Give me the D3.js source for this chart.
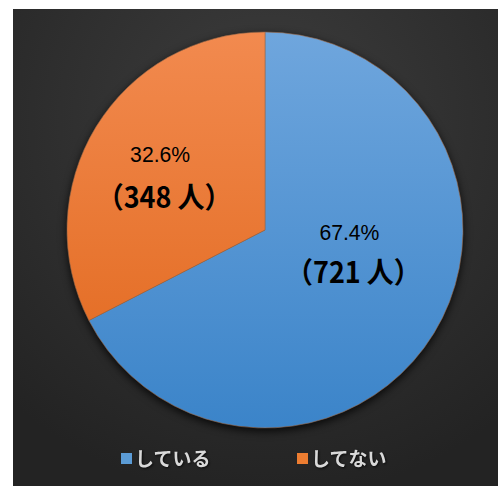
<!DOCTYPE html>
<html>
<head>
<meta charset="utf-8">
<script src="https://cdn.jsdelivr.net/npm/d3@7"></script>
<style>
  body { margin: 0; background: #fff; }
  svg { display: block; }
</style>
</head>
<body>
<script>
const categories = ["している", "してない"];
const counts = [721, 348];
const percents = ["67.4%", "32.6%"];
const colorsTop = ["#6fa6dd", "#f28a4f"];
const colorsBottom = ["#3b84c9", "#e0661a"];
const legendColors = ["#5b9bd5", "#ed7d31"];

const W = 498, H = 486;
const cx = 265, cy = 230, r = 198;

const svg = d3.select("body").append("svg")
    .attr("width", W)
    .attr("height", H);

const defs = svg.append("defs");

// background gradient
const bg = defs.append("radialGradient")
    .attr("id", "bg")
    .attr("gradientUnits", "userSpaceOnUse")
    .attr("cx", 265).attr("cy", 120).attr("r", 380);
bg.append("stop").attr("offset", "0%").attr("stop-color", "#3d3d3d");
bg.append("stop").attr("offset", "100%").attr("stop-color", "#232323");

categories.forEach((c, i) => {
    const g = defs.append("linearGradient")
        .attr("id", "slice" + i)
        .attr("gradientUnits", "userSpaceOnUse")
        .attr("x1", 0).attr("y1", -r)
        .attr("x2", 0).attr("y2", r);
    g.append("stop").attr("offset", "0%").attr("stop-color", colorsTop[i]);
    g.append("stop").attr("offset", "100%").attr("stop-color", colorsBottom[i]);
});

const shadow = defs.append("filter").attr("id", "shadow")
    .attr("color-interpolation-filters", "sRGB")
    .attr("x", "-20%").attr("y", "-20%").attr("width", "140%").attr("height", "140%");
shadow.append("feDropShadow")
    .attr("dx", 0).attr("dy", 3).attr("stdDeviation", 4)
    .attr("flood-color", "#000").attr("flood-opacity", 0.8);

const textShadow = defs.append("filter").attr("id", "tshadow")
    .attr("color-interpolation-filters", "sRGB");
textShadow.append("feDropShadow")
    .attr("dx", 1).attr("dy", 1).attr("stdDeviation", 1)
    .attr("flood-color", "#000").attr("flood-opacity", 0.7);

svg.append("rect")
    .attr("x", 13).attr("y", 9)
    .attr("width", W - 13).attr("height", H - 9)
    .attr("fill", "url(#bg)");

const data = categories.map((c, i) => ({ name: c, count: counts[i], pct: percents[i], i: i }));

const pie = d3.pie().sort(null).value(d => d.count);
const arc = d3.arc().innerRadius(0).outerRadius(r);
const arcs = pie(data);

const g = svg.append("g").attr("transform", `translate(${cx},${cy})`);

g.append("g").attr("filter", "url(#shadow)")
    .selectAll("path")
    .data(arcs)
    .enter()
    .append("path")
    .attr("d", arc)
    .attr("fill", d => `url(#slice${d.data.i})`)
    .attr("stroke", "#9a6a4a")
    .attr("stroke-width", 0.6);

// labels: centroid of a ring + nudge (origin = baseline of count line)
const labelArc = d3.arc().innerRadius(110).outerRadius(110);
const nudge = [[-5.5, -4], [-7, 35]];

const labels = g.selectAll(".lbl")
    .data(arcs)
    .enter()
    .append("g")
    .attr("class", "lbl")
    .attr("transform", d => {
        const c = labelArc.centroid(d);
        const n = nudge[d.data.i];
        return `translate(${c[0] + n[0]},${c[1] + n[1]})`;
    });

labels.append("text")
    .attr("text-anchor", "middle")
    .attr("x", -4)
    .attr("y", d => d.data.i === 0 ? -43 : -46)
    .attr("font-family", "'Liberation Sans', Arial, sans-serif")
    .attr("font-size", 22.5)
    .attr("fill", "#000")
    .attr("textLength", 60)
    .attr("lengthAdjust", "spacingAndGlyphs")
    .text(d => d.data.pct);

labels.append("text")
    .attr("text-anchor", "middle")
    .attr("y", 0)
    .attr("transform", "scale(0.93,1)")
    .attr("font-family", "'Liberation Sans Narrow', 'Noto Sans CJK JP', sans-serif")
    .attr("font-size", 29)
    .attr("font-weight", "bold")
    .attr("fill", "#000")
    .text(d => `（${d.data.count} 人）`);

// legend
const legend = svg.append("g").attr("id", "legend");
const legendX = [121, 297];
const item = legend.selectAll("g")
    .data(data)
    .enter()
    .append("g")
    .attr("transform", d => `translate(${legendX[d.i]},453)`);

item.append("rect")
    .attr("width", 11).attr("height", 11)
    .attr("fill", d => legendColors[d.i]);

item.append("text")
    .attr("x", 14)
    .attr("y", 13)
    .attr("font-family", "'Noto Sans CJK JP', sans-serif")
    .attr("font-size", 19)
    .attr("font-weight", "bold")
    .attr("fill", "#d9d9d9")
    .attr("filter", "url(#tshadow)")
    .text(d => d.name);
</script>
</body>
</html>
